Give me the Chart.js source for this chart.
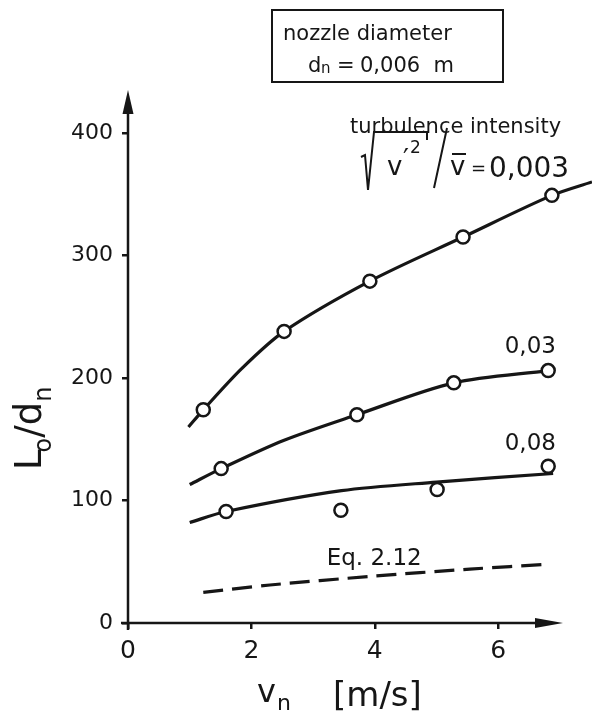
<!DOCTYPE html>
<html>
<head>
<meta charset="utf-8">
<script src="https://cdn.jsdelivr.net/npm/chart.js@4.4.0/dist/chart.umd.min.js"></script>
<style>
    html, body { margin: 0; padding: 0; background: #fff; }
    #wrap { width: 592px; height: 720px; position: relative; }
</style>
</head>
<body>
<div id="wrap"><canvas id="myChart"></canvas></div>
<script>
var ink = "#161616";
var fontName = "'DejaVu Sans', 'Liberation Sans', sans-serif";

var xTicks = [0, 2, 4, 6];
var yTicks = [0, 100, 200, 300, 400];

// measured points (circles), v_n in m/s and L0/dn
var vPts003 = [1.22, 2.53, 3.92, 5.43, 6.87];
var ldPts003 = [174, 238, 279, 315, 349];
var vPts03 = [1.51, 3.71, 5.28, 6.81];
var ldPts03 = [126, 170, 196, 206];
var vPts08 = [1.59, 3.45, 5.01, 6.81];
var ldPts08 = [91, 92, 109, 128];

// drawn curves
var vFit003 = [0.98, 1.22, 1.85, 2.53, 3.92, 5.43, 6.87, 7.52];
var ldFit003 = [160, 174, 208, 238, 279, 315, 349, 360];
var vFit03 = [1.00, 1.51, 2.52, 3.71, 5.28, 6.81];
var ldFit03 = [113, 126, 149, 170, 196, 206];
var vFit08 = [1.00, 1.59, 3.46, 5.00, 6.89];
var ldFit08 = [82, 91, 108, 115, 122];
var vEq = [1.22, 2.30, 3.92, 5.54, 6.84];
var ldEq = [25, 31, 38, 44, 48];

var curveLabels = ["0,03", "0,08", "Eq. 2.12"];

function toXY(xs, ys) {
    return xs.map(function (x, i) { return { x: x, y: ys[i] }; });
}

function curveSet(xs, ys, dashed) {
    return {
        data: toXY(xs, ys),
        showLine: true,
        borderColor: ink,
        borderWidth: 3.2,
        borderDash: dashed ? [20, 9] : [],
        pointRadius: 0,
        tension: 0.3,
        clip: false,
        order: 5
    };
}

function circleSet(xs, ys) {
    return {
        data: toXY(xs, ys),
        showLine: false,
        pointRadius: 6.5,
        pointBorderWidth: 2.5,
        pointBackgroundColor: "#fff",
        pointBorderColor: ink,
        clip: false,
        order: 0
    };
}

// axes with arrow heads + all the lettering
var drawingPlugin = {
    id: 'drawing',
    afterDraw: function (chart) {
        var ctx = chart.ctx;
        var xs = chart.scales.x, ys = chart.scales.y;
        var x0 = xs.getPixelForValue(0), y0 = ys.getPixelForValue(0);
        var xEnd = xs.getPixelForValue(xs.max), yEnd = ys.getPixelForValue(ys.max);

        ctx.save();
        ctx.strokeStyle = ink;
        ctx.fillStyle = ink;
        ctx.lineWidth = 2.5;

        ctx.beginPath();
        ctx.moveTo(x0 - 7, y0);
        ctx.lineTo(xEnd - 20, y0);
        ctx.moveTo(x0, y0 + 7);
        ctx.lineTo(x0, yEnd + 18);
        ctx.stroke();

        ctx.beginPath();
        ctx.moveTo(xEnd, y0);
        ctx.lineTo(xEnd - 28, y0 - 5);
        ctx.lineTo(xEnd - 28, y0 + 5);
        ctx.closePath();
        ctx.fill();
        ctx.beginPath();
        ctx.moveTo(x0, yEnd);
        ctx.lineTo(x0 - 5.5, yEnd + 24);
        ctx.lineTo(x0 + 5.5, yEnd + 24);
        ctx.closePath();
        ctx.fill();

        ctx.textAlign = 'left';
        ctx.textBaseline = 'alphabetic';

        // labels beside the curves
        ctx.font = "23px " + fontName;
        ctx.textAlign = 'center';
        ctx.fillText(curveLabels[0], xs.getPixelForValue(6.52), ys.getPixelForValue(220));
        ctx.fillText(curveLabels[1], xs.getPixelForValue(6.52), ys.getPixelForValue(141));
        ctx.fillText(curveLabels[2], xs.getPixelForValue(3.99), ys.getPixelForValue(47), 96);
        ctx.textAlign = 'left';

        // x axis title
        ctx.font = "32px " + fontName;
        ctx.fillText("v", 257, 702);
        ctx.font = "22px " + fontName;
        ctx.fillText("n", 277, 710);
        ctx.font = "34px " + fontName;
        ctx.fillText("[m/s]", 333, 706, 97);

        // y axis title, rotated
        ctx.save();
        ctx.translate(41, 470);
        ctx.rotate(-Math.PI / 2);
        var px = 0;
        ctx.font = "37px " + fontName;
        ctx.fillText("L", px, 0);
        px += ctx.measureText("L").width - 3;
        ctx.font = "24px " + fontName;
        ctx.fillText("o", px, 10);
        px += ctx.measureText("o").width;
        ctx.font = "37px " + fontName;
        ctx.fillText("/", px, 0);
        px += ctx.measureText("/").width;
        ctx.fillText("d", px, 0);
        px += ctx.measureText("d").width;
        ctx.font = "24px " + fontName;
        ctx.fillText("n", px, 10);
        ctx.restore();

        // nozzle box
        ctx.lineWidth = 2;
        ctx.strokeRect(272, 10, 231, 72);
        ctx.font = "21px " + fontName;
        ctx.fillText("nozzle diameter", 283, 40, 195);
        ctx.fillText("d", 308, 72);
        ctx.font = "15px " + fontName;
        ctx.fillText("n", 321, 73);
        ctx.font = "21px " + fontName;
        ctx.fillText("=", 337, 72);
        ctx.fillText("0,006  m", 360, 72, 108);

        // turbulence intensity formula
        ctx.fillText("turbulence intensity", 350, 133, 223);
        ctx.lineWidth = 2;
        ctx.beginPath();
        ctx.moveTo(361, 157);
        ctx.lineTo(365, 155);
        ctx.lineTo(368, 190);
        ctx.lineTo(374, 132);
        ctx.lineTo(427, 132);
        ctx.lineTo(427, 140);
        ctx.stroke();
        ctx.font = "26px " + fontName;
        ctx.fillText("v", 387, 175);
        ctx.fillText("\u2032", 403, 168);
        ctx.font = "17px " + fontName;
        ctx.fillText("2", 410, 153);
        ctx.beginPath();
        ctx.moveTo(434, 188);
        ctx.lineTo(447, 128);
        ctx.moveTo(452, 154);
        ctx.lineTo(466, 154);
        ctx.stroke();
        ctx.font = "26px " + fontName;
        ctx.fillText("v", 450, 175);
        ctx.font = "18px " + fontName;
        ctx.fillText("=", 471, 174);
        ctx.font = "28px " + fontName;
        ctx.fillText("0,003", 489, 177, 80);

        ctx.restore();
    }
};

new Chart("myChart", {
    type: "scatter",
    data: {
        datasets: [
            circleSet(vPts003, ldPts003),
            circleSet(vPts03, ldPts03),
            circleSet(vPts08, ldPts08),
            curveSet(vFit003, ldFit003, false),
            curveSet(vFit03, ldFit03, false),
            curveSet(vFit08, ldFit08, false),
            curveSet(vEq, ldEq, true)
        ]
    },
    options: {
        responsive: true,
        maintainAspectRatio: false,
        animation: false,
        layout: { padding: { top: 90, right: 29, left: 0, bottom: 0 } },
        plugins: {
            legend: { display: false },
            tooltip: { enabled: false }
        },
        scales: {
            x: {
                type: 'linear',
                min: 0,
                max: 7.05,
                afterFit: function (s) { s.height = 97; },
                afterBuildTicks: function (s) { s.ticks = xTicks.map(function (v) { return { value: v }; }); },
                border: { display: false },
                grid: { drawOnChartArea: false, drawTicks: true, tickLength: 6, lineWidth: 2.5, color: ink },
                ticks: { color: ink, padding: 7, font: { family: fontName, size: 25 } }
            },
            y: {
                type: 'linear',
                min: 0,
                max: 435,
                afterFit: function (s) { s.width = 128; },
                afterBuildTicks: function (s) { s.ticks = yTicks.map(function (v) { return { value: v }; }); },
                border: { display: false },
                grid: { drawOnChartArea: false, drawTicks: true, tickLength: 6, lineWidth: 2.5, color: ink },
                ticks: { color: ink, padding: 9, font: { family: fontName, size: 22 } }
            }
        }
    },
    plugins: [drawingPlugin]
});
</script>
</body>
</html>
